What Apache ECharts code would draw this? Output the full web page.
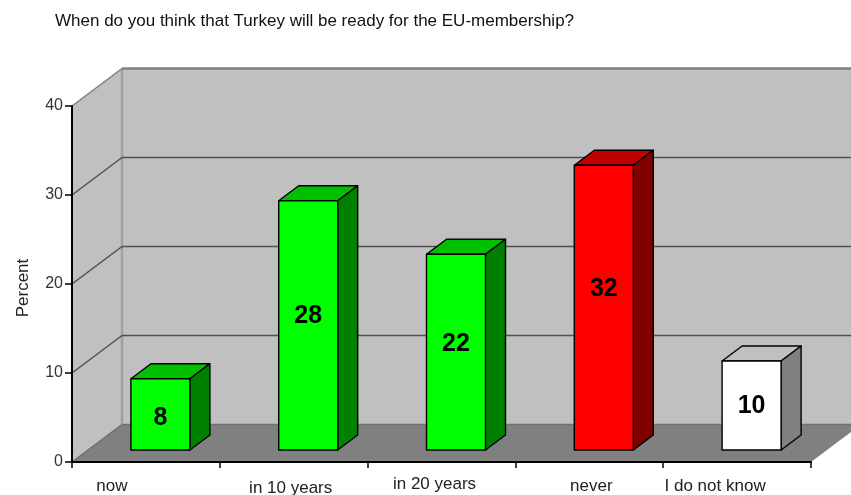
<!DOCTYPE html>
<html>
<head>
<meta charset="utf-8">
<style>html,body{margin:0;padding:0;background:#fff}#c{width:851px;height:495px}</style>
<script src="https://cdn.jsdelivr.net/npm/echarts@6/dist/echarts.min.js"></script>
</head>
<body>
<div id="c"></div>
<script>
const titleText = 'When do you think that Turkey will be ready for the EU-membership?';
const yAxisName = 'Percent';
const categories = ['now', 'in 10 years', 'in 20 years', 'never', 'I do not know'];
const values = [8, 28, 22, 32, 10];
const yTicks = [0, 10, 20, 30, 40];
const frontColors = ['#00ff00', '#00ff00', '#00ff00', '#ff0000', '#ffffff'];
const topColors = ['#00c000', '#00c000', '#00c000', '#c00000', '#c0c0c0'];
const sideColors = ['#008000', '#008000', '#008000', '#800000', '#808080'];

// Presentation constants (pixels)
const wallDX = 50, wallDY = -37.5;
const barFrontDX = 14.5, barFrontDY = -12, barW = 59, barDX = 20, barDY = -15;
const labelNudgeX = [-34, -3, -7, 2, -22];
const labelNudgeY = [0, 1, -1, 0, 0];
const valueNudgeY = [4, -9, -8, -18.5, 0.5];
const FONT = '"Liberation Sans", Arial, sans-serif';

const poly = (points, fill, stroke, lineWidth) => ({
  type: 'polygon',
  shape: { points },
  style: { fill, stroke: stroke || 'none', lineWidth: lineWidth || 0, lineJoin: 'round' }
});
const line = (a, b, stroke, lineWidth) => ({
  type: 'line',
  shape: { x1: a[0], y1: a[1], x2: b[0], y2: b[1] },
  style: { stroke, lineWidth }
});

function renderWalls(params, api) {
  const cs = params.coordSys;
  const x0 = cs.x, x1 = cs.x + cs.width;
  const y0 = api.coord([0, 0])[1], yT = api.coord([0, yTicks[yTicks.length - 1]])[1];
  const bx0 = x0 + wallDX, bx1 = x1 + wallDX;
  return {
    type: 'group',
    children: [
      poly([[x0, y0], [bx0, y0 + wallDY], [bx0, yT + wallDY], [x0, yT]], '#c0c0c0'),
      poly([[bx0, y0 + wallDY], [bx1, y0 + wallDY], [bx1, yT + wallDY], [bx0, yT + wallDY]], '#c0c0c0'),
      poly([[x0, y0], [bx0, y0 + wallDY], [bx1, y0 + wallDY], [x1, y0]], '#808080'),
      line([bx0, y0 + wallDY], [bx0, yT + wallDY], '#a0a0a0', 2.5)
    ]
  };
}

function renderGrid(params, api) {
  const cs = params.coordSys;
  const v = api.value(1);
  const y = api.coord([0, v])[1];
  const x0 = cs.x, bx0 = x0 + wallDX, bx1 = x0 + cs.width + wallDX;
  const isFloor = v === 0;
  const isTop = v === yTicks[yTicks.length - 1];
  const color = isTop ? '#808080' : (isFloor ? '#707070' : '#505050');
  return {
    type: 'group',
    children: [
      line([x0, y], [bx0, y + wallDY], color, 1.5),
      line([bx0, y + wallDY], [bx1, y + wallDY], color, isTop ? 2.5 : 1.5)
    ]
  };
}

function renderBar(params, api) {
  const i = params.dataIndex;
  const v = api.value(1);
  const c = api.coord([i, v]);
  const b = api.coord([i, 0]);
  const l = c[0] + barFrontDX - barW / 2, r = l + barW;
  const t = c[1] + barFrontDY, bo = b[1] + barFrontDY;
  const stroke = '#000';
  return {
    type: 'group',
    children: [
      poly([[l, t], [l + barDX, t + barDY], [r + barDX, t + barDY], [r, t]], topColors[i], stroke, 1.4),
      poly([[r, t], [r + barDX, t + barDY], [r + barDX, bo + barDY], [r, bo]], sideColors[i], stroke, 1.4),
      poly([[l, t], [r, t], [r, bo], [l, bo]], frontColors[i], stroke, 1.4),
      {
        type: 'text',
        z2: 10,
        style: {
          text: String(v),
          x: (l + r) / 2,
          y: (t + bo) / 2 + valueNudgeY[i],
          align: 'center',
          verticalAlign: 'middle',
          fill: '#000',
          font: 'bold 25px ' + FONT
        }
      }
    ]
  };
}

const rich = {};
categories.forEach((_, i) => {
  const dx = labelNudgeX[i], dy = labelNudgeY[i];
  rich['c' + i] = {
    fontFamily: FONT,
    fontSize: 17,
    color: '#222',
    padding: [Math.max(0, 6 + 2 * dy), dx < 0 ? -2 * dx : 0, 0, dx > 0 ? 2 * dx : 0]
  };
});

const chart = echarts.init(document.getElementById('c'), null, { renderer: 'canvas' });
chart.setOption({
  animation: false,
  backgroundColor: '#fff',
  title: {
    text: titleText,
    left: 50,
    top: 8,
    textStyle: { fontFamily: FONT, fontSize: 17, fontWeight: 'normal', color: '#111' }
  },
  grid: { left: 72, right: 40, top: 106, bottom: 33, outerBoundsMode: 'none' },
  xAxis: {
    type: 'category',
    data: categories,
    z: 5,
    axisLine: { lineStyle: { color: '#000', width: 2 } },
    axisTick: { show: true, length: 6, alignWithLabel: false, lineStyle: { color: '#000', width: 1.5 } },
    splitLine: { show: false },
    axisLabel: {
      interval: 0,
      margin: 10,
      formatter: (val, idx) => '{c' + idx + '|' + val + '}',
      rich
    }
  },
  yAxis: {
    type: 'value',
    min: 0,
    max: 40,
    interval: 10,
    z: 5,
    name: yAxisName,
    nameLocation: 'middle',
    nameGap: 40,
    nameRotate: 90,
    nameTextStyle: { fontFamily: FONT, fontSize: 17, color: '#222', padding: [0, 8, 0, 0] },
    axisLine: { show: true, lineStyle: { color: '#000', width: 2 } },
    axisTick: { show: true, length: 7, lineStyle: { color: '#000', width: 1.5 } },
    splitLine: { show: false },
    axisLabel: { fontFamily: FONT, fontSize: 16, color: '#333', margin: 9 }
  },
  series: [
    { type: 'custom', coordinateSystem: 'cartesian2d', silent: true, z: 1, data: [[0, 0]], renderItem: renderWalls },
    { type: 'custom', coordinateSystem: 'cartesian2d', silent: true, z: 2, data: yTicks.map(t => [0, t]), renderItem: renderGrid },
    { type: 'custom', coordinateSystem: 'cartesian2d', z: 3, data: values.map((v, i) => [i, v]), encode: { x: 0, y: 1 }, renderItem: renderBar }
  ]
});
</script>
</body>
</html>
